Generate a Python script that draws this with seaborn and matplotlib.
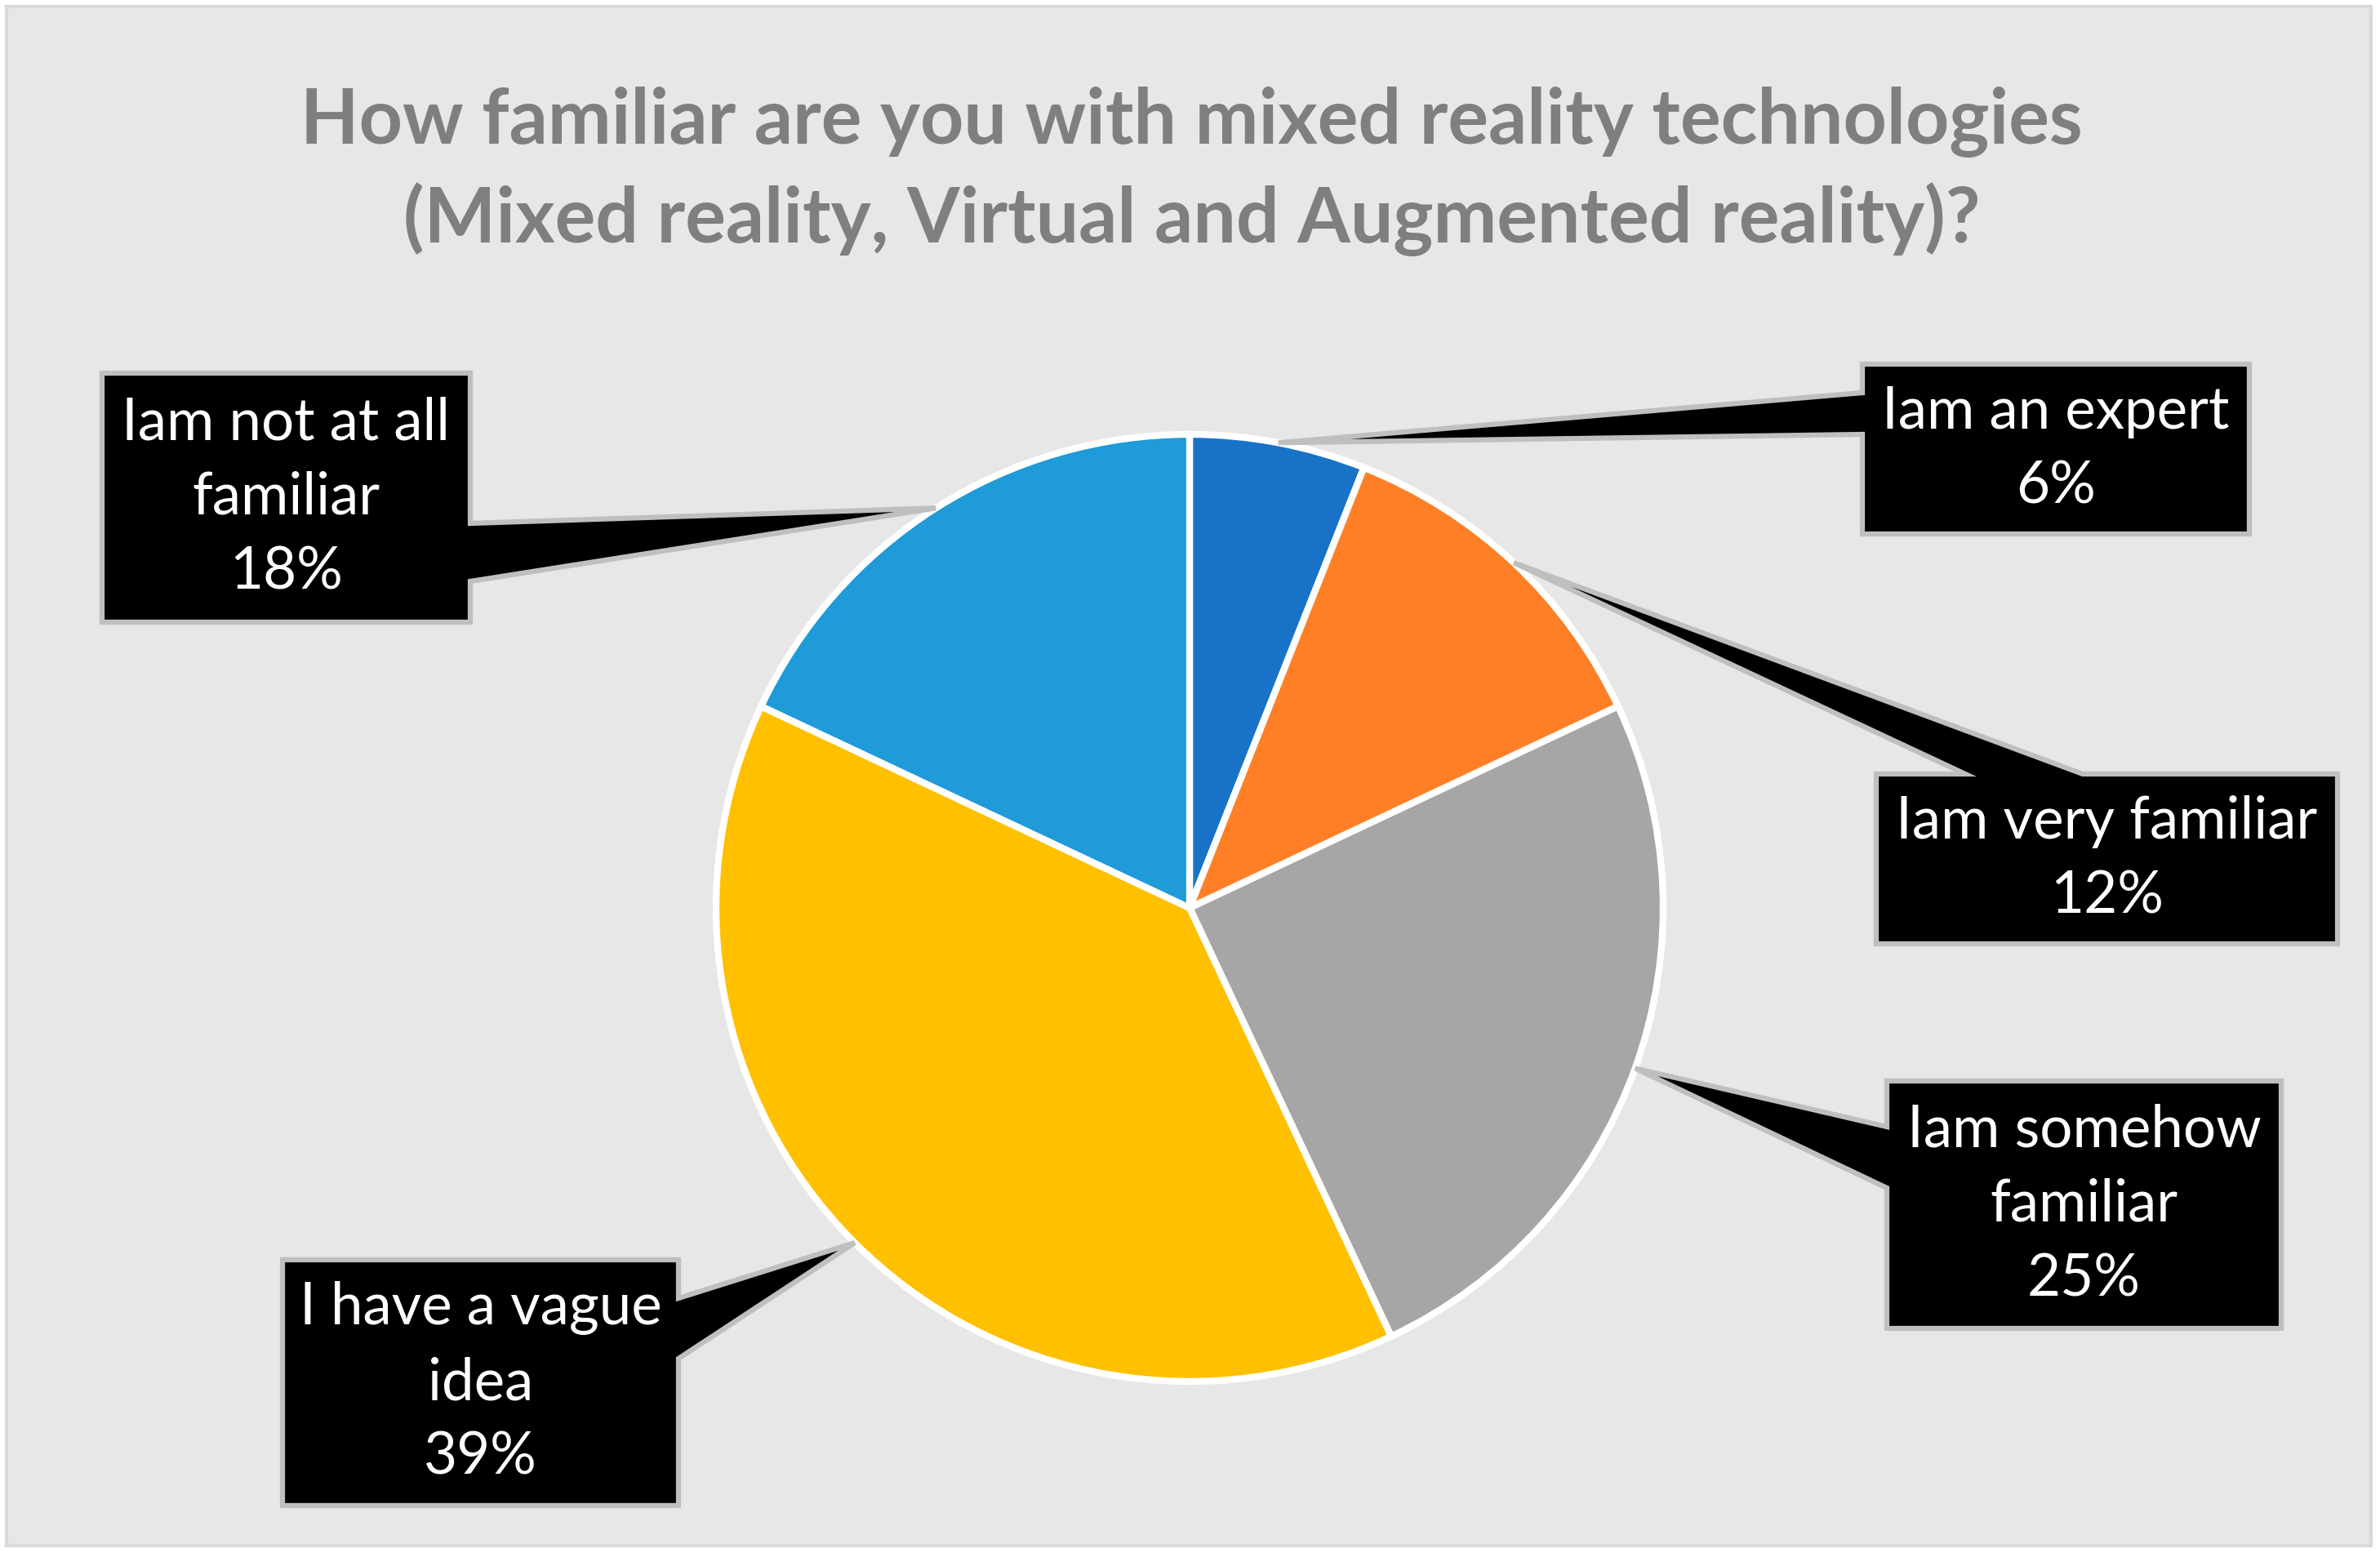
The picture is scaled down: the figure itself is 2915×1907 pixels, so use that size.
import numpy as np
import matplotlib.pyplot as plt
import seaborn as sns
from matplotlib.patches import Polygon, Rectangle

# Survey answers (clockwise from 12 o'clock)
categories = ['Iam an expert', 'Iam very familiar', 'Iam somehow\nfamiliar',
              'I have a vague\nidea', 'Iam not at all\nfamiliar']
percents = [6, 12, 25, 39, 18]
colors = ['#1873C8', '#FF7F27', '#A6A6A6', '#FFC000', '#1E9BD8']

title = ('How familiar are you with mixed reality technologies\n'
         '(Mixed reality, Virtual and Augmented reality)?')

sns.set_style('white')
plt.rcParams['font.family'] = ['Lato', 'DejaVu Sans']

W, H = 2915, 1907
fig = plt.figure(figsize=(W / 100, H / 100), dpi=100, facecolor='white')
ax = fig.add_axes([0, 0, 1, 1])

# chart panel
ax.add_patch(Rectangle((8, H - 1893), 2896, 1885, facecolor='#E7E7E7',
                       edgecolor='#D9D9D9', linewidth=3, zorder=0))

center = (1457, H - 1112)
radius = 580
wedges, _ = ax.pie(percents, colors=colors, startangle=90, counterclock=False,
                   center=center, radius=radius, frame=True,
                   wedgeprops=dict(edgecolor='white', linewidth=6))
ax.set_xlim(0, W)
ax.set_ylim(0, H)
ax.set_aspect('equal')
ax.axis('off')

ax.text(W / 2 + 2, H - 210, title, ha='center', va='center', fontsize=67,
        fontweight='bold', color='#7F7F7F', linespacing=1.42)

# callout boxes: (x0, y0, x1, y1) in pixels from top-left, edge, pointer base
boxes = [
    ((2281, 446, 2755, 654), 'left', (481, 532)),
    ((2298, 948, 2863, 1156), 'top', (2407, 2551)),
    ((2311, 1324, 2794, 1627), 'left', (1380, 1455)),
    ((346, 1543, 831, 1844), 'right', (1590, 1664)),
    ((125, 457, 576, 762), 'right', (641, 712)),
]


def callout(box, edge, base, tip):
    x0, y0, x1, y1 = box
    a, b = base
    pts = [(x0, y0)]
    if edge == 'top':
        pts += [(a, y0), tip, (b, y0)]
    pts.append((x1, y0))
    if edge == 'right':
        pts += [(x1, a), tip, (x1, b)]
    pts += [(x1, y1), (x0, y1)]
    if edge == 'left':
        pts += [(x0, b), tip, (x0, a)]
    return [(x, H - y) for x, y in pts]


for w, lab, pct, (box, edge, base) in zip(wedges, categories, percents, boxes):
    mid = np.deg2rad((w.theta1 + w.theta2) / 2)
    tx = center[0] + radius * np.cos(mid)
    ty = center[1] + radius * np.sin(mid)
    tip = (tx, H - ty)
    ax.add_patch(Polygon(callout(box, edge, base, tip), closed=True,
                         facecolor='black', edgecolor='#BFBFBF', linewidth=4.5,
                         joinstyle='miter', zorder=5))
    ax.text((box[0] + box[2]) / 2, H - (box[1] + box[3]) / 2, f'{lab}\n{pct}%',
            ha='center', va='center', color='white', fontsize=51,
            linespacing=1.5, zorder=6)

fig.savefig('out.png', dpi=100, facecolor='white')
